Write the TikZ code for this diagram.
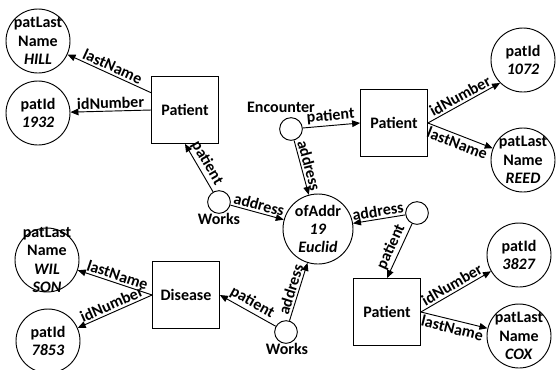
\documentclass[tikz,border=0pt]{standalone}
\usepackage{fontspec}
\setmainfont{Carlito}
\usetikzlibrary{arrows.meta}
\begin{document}
\begin{tikzpicture}[x=0.75pt,y=-0.75pt,
  every node/.style={font=\fontsize{12}{13.8}\selectfont\bfseries},
  valc/.style={circle,draw,line width=0.7pt,minimum size=48pt,inner sep=0pt},
  addrc/.style={circle,draw,line width=0.7pt,minimum size=52.5pt,inner sep=0pt},
  dot/.style={circle,draw,line width=0.7pt,minimum size=17pt,inner sep=0pt},
  ent/.style={rectangle,draw,line width=0.8pt,minimum size=50pt,inner sep=0pt},
  txt/.style={align=center,inner sep=0pt},
  rel/.style={line width=0.7pt,-{Triangle[length=6pt,width=5pt]}},
  elab/.style={sloped,inner sep=1.5pt}]
\useasboundingbox (0,0) rectangle (557,369);

% entities
\node[ent] (lp) at (185,110) {Patient};
\node[ent] (rp) at (394,123) {Patient};
\node[ent] (bp) at (387,312) {Patient};
\node[ent] (dis) at (186,295) {Disease};

% value circles
\node[valc] (hill) at (38,41) {};
\node[txt] (hillt) at (hill) {patLast\\Name\\\textit{HILL}};
\node[valc] (p1932) at (38,113) {};
\node[txt] (p1932t) at (p1932) {patId\\\textit{1932}};
\node[valc] (p1072) at (523,60) {};
\node[txt] (p1072t) at (p1072) {patId\\\textit{1072}};
\node[valc] (reed) at (523,160) {};
\node[txt] (reedt) at (reed) {patLast\\Name\\\textit{REED}};
\node[valc] (p3827) at (519,255) {};
\node[txt] (p3827t) at (p3827) {patId\\\textit{3827}};
\node[valc] (cox) at (519,336) {};
\node[txt] (coxt) at (cox) {patLast\\Name\\\textit{COX}};
\node[valc] (wilson) at (47,260) {};
\node[txt] (wilsont) at (wilson) {patLast\\Name\\\textit{WIL}\\\textit{SON}};
\node[valc] (p7853) at (48,341) {};
\node[txt] (p7853t) at (p7853) {patId\\\textit{7853}};
\node[addrc] (addr) at (318,229) {};
\node[txt] (addrt) at (addr) {ofAddr\\\textit{19}\\\textit{Euclid}};

% relationship points
\node[dot] (enc) at (291,129) {};
\node (enclab) at (281,107) {Encounter};
\node[dot] (wk1) at (219,202) {};
\node (wk1lab) at (219,219) {Works};
\node[dot] (wk2) at (286,332) {};
\node (wk2lab) at (287,349) {Works};
\node[dot] (rel3) at (417,213) {};

% connectors
\draw[rel] (lp.153) -- node[elab,above] {lastName} (hill);
\draw[rel] (lp.west) -- node[elab,above] {idNumber} (p1932);
\draw[rel] (wk1) -- node[elab,above] {patient} (lp.south);
\draw[rel] (wk1) -- node[elab,above] {address} (addr);
\draw[rel] (enc) -- node[elab,above] {patient} (rp.west);
\draw[rel] (enc) -- node[elab,above] {address} (addr);
\draw[rel] (rp.east) -- node[elab,above] {idNumber} (p1072.225);
\draw[rel] (rp.east) -- node[elab,below] {lastName} (reed);
\draw[rel] (rel3) -- node[elab,above] {address} (addr);
\draw[rel] (rel3) -- node[elab,above] {patient} (bp.north);
\draw[rel] (bp.east) -- node[elab,above] {idNumber} (p3827);
\draw[rel] (bp.east) -- node[elab,below] {lastName} (cox);
\draw[rel] (wk2) -- node[elab,above] {patient} (dis.east);
\draw[rel] (wk2) -- node[elab,above] {address} (addr);
\draw[rel] (dis.west) -- node[elab,above] {lastName} (wilson);
\draw[rel] (dis.west) -- node[elab,above] {idNumber} (p7853);
\end{tikzpicture}
\end{document}
